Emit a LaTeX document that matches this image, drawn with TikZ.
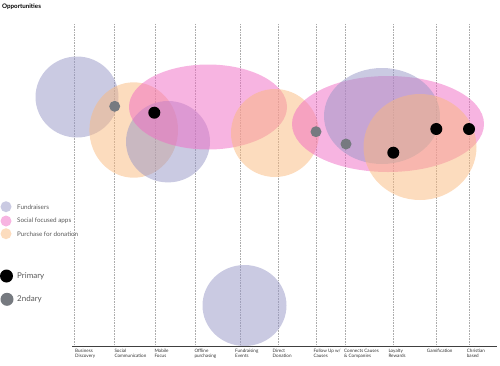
\documentclass[tikz,border=0pt]{standalone}
\usepackage{fontspec}
\setmainfont{Lato}
\definecolor{lav}{RGB}{150,150,198}
\definecolor{pnk}{RGB}{240,105,195}
\definecolor{pch}{RGB}{250,185,125}
\definecolor{dotgray}{RGB}{118,122,128}
\tikzset{
  col/.style={densely dotted,gray!65,line width=0.6pt},
  blob/.style={fill opacity=0.5,draw=none},
  lbl/.style={anchor=north west,align=left,inner sep=0pt,font=\fontsize{4.6}{5.4}\selectfont,text=black!80},
  key/.style={anchor=west,inner sep=0pt,font=\fontsize{6.3}{7}\selectfont,text=black!65},
}
\begin{document}
\begin{tikzpicture}[x=1pt,y=-1pt]
    \useasboundingbox (0,0) rectangle (500,365);
    \node[anchor=north west,inner sep=0pt,font=\fontsize{6.2}{7}\selectfont\bfseries] (title) at (2,3.5) {Opportunities};

    % columns
    \foreach \n/\x in {1/74,2/114.5,3/155.7,4/195.7,5/240.7,6/278.3,7/316.3,8/345.7,9/393.3,10/436.3,11/469.3} {
        \coordinate (t\n) at (\x,24);
        \coordinate (b\n) at (\x,346);
        \draw[col] (t\n) -- (b\n);
    }
    \coordinate (axl) at (72,346.5);
    \coordinate (axr) at (497,346.5);
    \draw[black!75,line width=0.7pt] (axl) -- (axr);

    % labels
    \node[lbl] (l1) at (75,349) {Business\\Discovery};
    \node[lbl] (l2) at (114.3,349) {Social\\Communication};
    \node[lbl] (l3) at (154.3,349) {Mobile\\Focus};
    \node[lbl] (l4) at (194.3,349) {Offline\\purchasing};
    \node[lbl] (l5) at (235,349) {Fundraising\\Events};
    \node[lbl] (l6) at (272.5,349) {Direct\\Donation};
    \node[lbl] (l7) at (313.3,349) {Follow Up w/\\Causes};
    \node[lbl] (l8) at (344,349) {Connects Causes\\\& Companies};
    \node[lbl] (l9) at (388.3,349) {Loyalty\\Rewards};
    \node[lbl] (l10) at (426.7,349) {Gamification};
    \node[lbl] (l11) at (466.7,349) {Christian\\based};

    % areas
    \fill[blob,lav] (77,97) ellipse (41.5 and 40.5);
    \fill[blob,pch] (133.7,130) ellipse (44.3 and 47.7);
    \fill[blob,lav] (168,141.7) ellipse (42 and 40.7);
    \fill[blob,pnk] (208,107) ellipse (79 and 42.5);
    \fill[blob,pch] (275,133) ellipse (44 and 44);
    \fill[blob,pnk] (388,124) ellipse (96 and 48);
    \fill[blob,lav] (382,116) ellipse (58 and 48);
    \fill[blob,pch] (420,147) ellipse (56.5 and 53);
    \fill[blob,lav] (244.5,305.5) ellipse (42 and 40.5);

    % markers
    \fill[dotgray] (114.7,106.3) circle (5.5);
    \fill[black] (154.3,112.7) circle (6);
    \fill[dotgray] (316,131.7) circle (5.5);
    \fill[dotgray] (346,144) circle (5.5);
    \fill[black] (393.3,152.7) circle (6);
    \fill[black] (436.3,129) circle (6);
    \fill[black] (469,129) circle (6);

    % legend
    \fill[blob,lav] (6,206.7) circle (5.5);
    \fill[blob,pnk] (6,221) circle (5.5);
    \fill[blob,pch] (6,233.7) circle (5.5);
    \node[key] (k1) at (17,206.7) {Fundraisers};
    \node[key] (k2) at (17,221) {Social focused apps};
    \node[key] (k3) at (17,233.7) {Purchase for donation};
    \fill[black] (6.5,276) circle (6.5);
    \fill[dotgray] (7,299.3) circle (6.5);
    \node[key,font=\fontsize{8}{9}\selectfont] (k4) at (17,276) {Primary};
    \node[key,font=\fontsize{8}{9}\selectfont] (k5) at (17,299.3) {2ndary};
\end{tikzpicture}
\end{document}
